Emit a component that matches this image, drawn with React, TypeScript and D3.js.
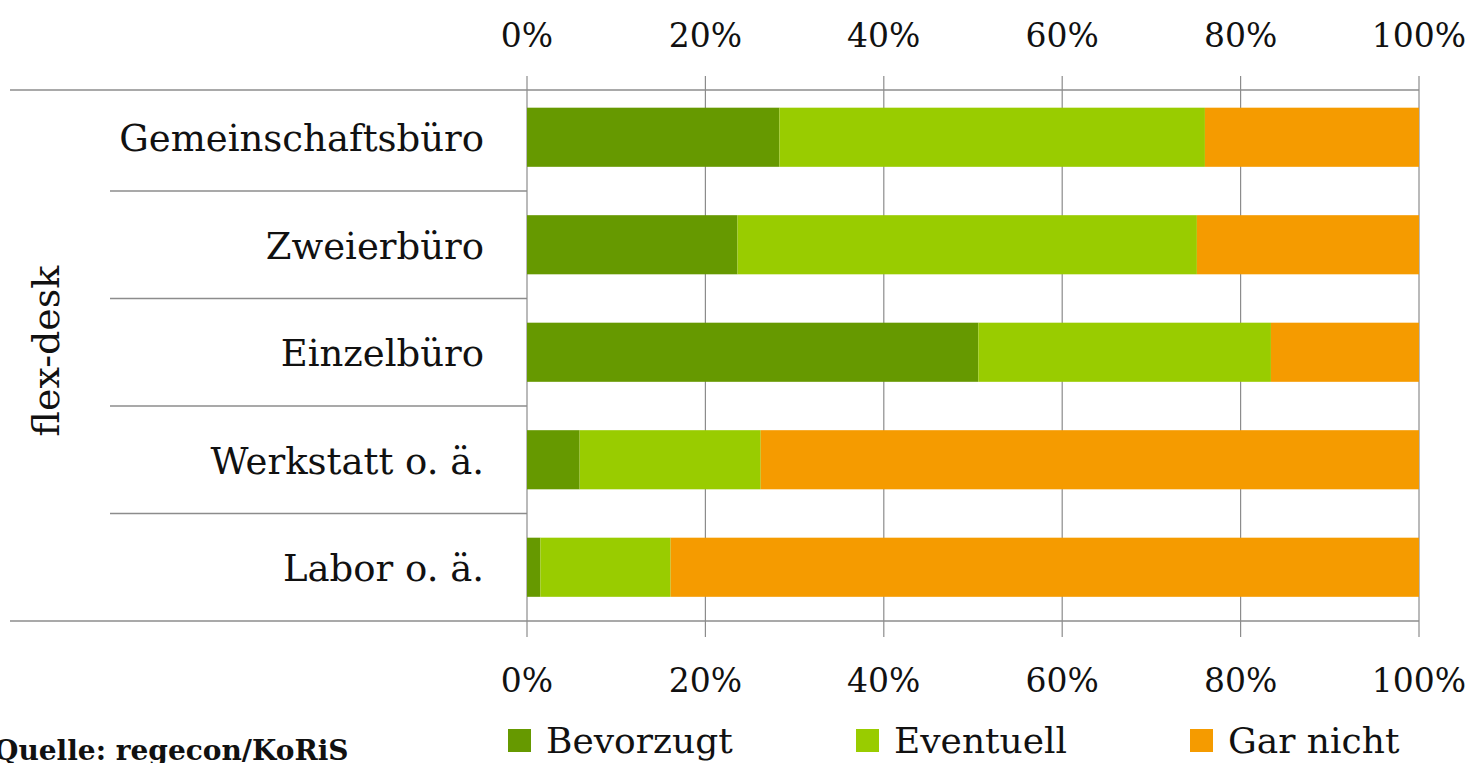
import React from "react";
import * as d3 from "d3";

const categories = ["Gemeinschaftsbüro", "Zweierbüro", "Einzelbüro", "Werkstatt o. ä.", "Labor o. ä."];
const seriesNames = ["Bevorzugt", "Eventuell", "Gar nicht"];
const bevorzugt = [28.3, 23.6, 50.6, 5.9, 1.5];
const eventuell = [47.7, 51.5, 32.8, 20.3, 14.6];
const garNicht = [24.0, 24.9, 16.6, 73.8, 83.9];
const tickValues = [0, 20, 40, 60, 80, 100];
const groupLabel = "flex-desk";
const sourceText = "Quelle: regecon/KoRiS";
const colors = ["#669900", "#99cc00", "#f59b00"];

const W = 1474;
const H = 763;
const FONT = "'DejaVu Serif', 'Liberation Serif', serif";

export default function App() {
  const x = d3.scaleLinear().domain([0, 100]).range([527, 1419]);
  const y = d3.scaleBand<string>().domain(categories).range([83.5, 621]).paddingInner(0.45).paddingOuter(0.225);
  const step = y.step();
  const series = [bevorzugt, eventuell, garNicht];
  const rows = categories.map((c, i) => {
    let acc = 0;
    return series.map((s, k) => {
      const x0 = acc;
      acc += s[i];
      return { c, k, x0, x1: acc };
    });
  });
  const gridTop = 76;
  const gridBottom = 637;
  const legendX = [508, 856, 1190];
  return (
    <svg width={W} height={H} style={{ position: "absolute", left: 0, top: 0, background: "#fff" }} fontFamily={FONT}>
      {/* grid lines */}
      {tickValues.map((t) => (
        <line key={"g" + t} x1={x(t)} x2={x(t)} y1={gridTop} y2={gridBottom} stroke="#8c8c8c" strokeWidth={1.2} />
      ))}
      {/* bars */}
      {rows.map((r) =>
        r.map((seg) => (
          <rect
            key={seg.c + seg.k}
            x={x(seg.x0)}
            width={x(seg.x1) - x(seg.x0)}
            y={y(seg.c)!}
            height={y.bandwidth()}
            fill={colors[seg.k]}
          />
        ))
      )}
      {/* top and bottom axis lines */}
      <line x1={10} x2={x(100)} y1={90} y2={90} stroke="#8c8c8c" strokeWidth={1.5} />
      <line x1={10} x2={x(100)} y1={621} y2={621} stroke="#8c8c8c" strokeWidth={1.5} />
      {/* category separators */}
      {categories.slice(1).map((c) => (
        <line key={"s" + c} x1={110} x2={x(0)} y1={y(c)! - (step - y.bandwidth()) / 2} y2={y(c)! - (step - y.bandwidth()) / 2} stroke="#8c8c8c" strokeWidth={1.5} />
      ))}
      {/* category labels */}
      {categories.map((c) => (
        <text key={"l" + c} x={484} y={y(c)! + y.bandwidth() / 2} dy="0.38em" textAnchor="end" fontSize={37} fill="#111">
          {c}
        </text>
      ))}
      {/* group label */}
      <text transform={`translate(59,351) rotate(-90)`} textAnchor="middle" fontSize={38} fill="#111">
        {groupLabel}
      </text>
      {/* tick labels */}
      {tickValues.map((t) => (
        <g key={"t" + t}>
          <text x={x(t)} y={35} dy="0.35em" textAnchor="middle" fontSize={33} fill="#111">{t + "%"}</text>
          <text x={x(t)} y={680} dy="0.35em" textAnchor="middle" fontSize={33} fill="#111">{t + "%"}</text>
        </g>
      ))}
      {/* legend */}
      {seriesNames.map((n, i) => (
        <g key={"lg" + n}>
          <rect x={legendX[i]} y={729} width={23} height={23} fill={colors[i]} />
          <text x={legendX[i] + 38} y={753} fontSize={36} fill="#111">{n}</text>
        </g>
      ))}
      {/* source */}
      <text x={-6} y={760} fontSize={28} fontWeight="bold" fill="#111">{sourceText}</text>
    </svg>
  );
}
